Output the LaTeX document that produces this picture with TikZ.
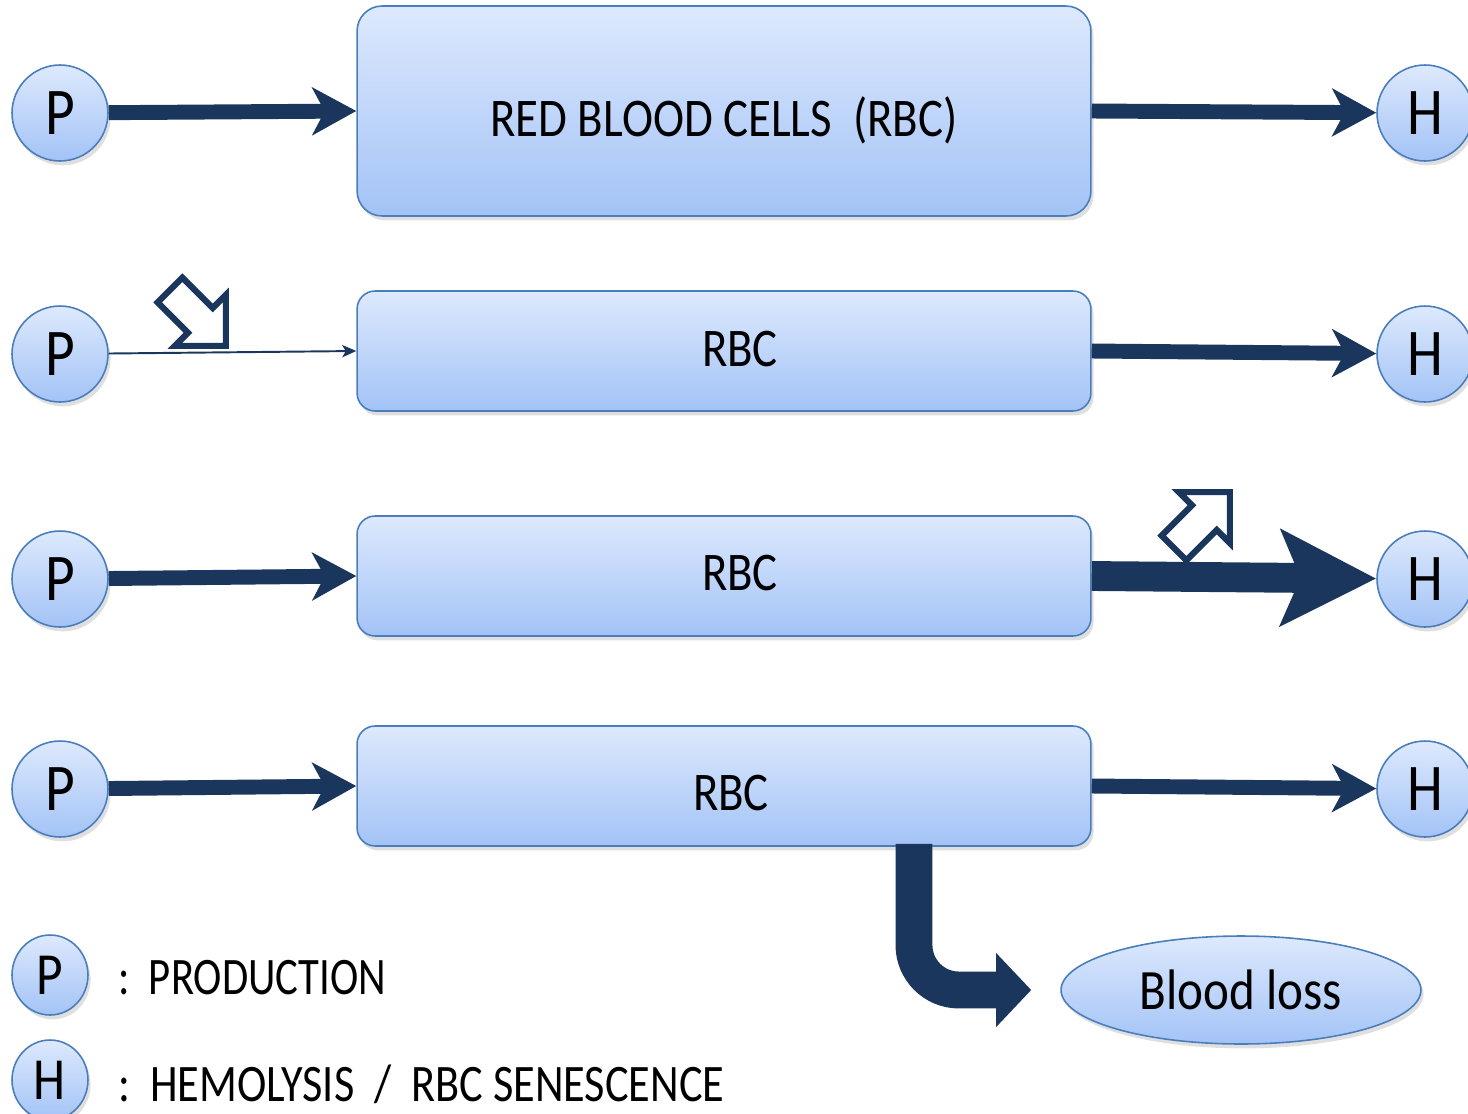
\documentclass[tikz,border=0pt]{standalone}
\usepackage{fontspec}
\setmainfont{Carlito}
\newfontfamily\narrowfont[FakeStretch=0.86]{Carlito}
\newfontfamily\keyfont[FakeStretch=0.81]{Carlito}
\newfontfamily\causefont[FakeStretch=0.84]{Carlito}
\usetikzlibrary{arrows.meta,shadows,shapes.geometric}
\definecolor{navy}{HTML}{1A365D}
\definecolor{rim}{HTML}{4A7EBB}
\definecolor{topblue}{HTML}{DDE9FD}
\definecolor{botblue}{HTML}{A3C3F6}
\newcommand{\lowered}[2]{\raisebox{-#1}[0pt][0pt]{#2}}

\begin{document}
\begin{tikzpicture}[x=0.02cm,y=-0.02cm,
  cell/.style={draw=rim, line width=0.9pt, top color=topblue, bottom color=botblue,
    drop shadow={opacity=0.25, shadow xshift=1.5pt, shadow yshift=-2.5pt}},
  ball/.style={cell, circle, minimum size=1.92cm, inner sep=0pt,
    font=\narrowfont\fontsize{38}{42}\selectfont},
  key/.style={cell, ellipse, minimum width=1.52cm, minimum height=1.6cm, inner sep=0pt,
    font=\narrowfont\fontsize{34}{38}\selectfont},
  rbc/.style={cell, rectangle, rounded corners=0.36cm, minimum width=14.68cm,
    minimum height=2.4cm, font=\narrowfont\fontsize{31}{36}\selectfont},
  flow/.style={navy, line width=8.5pt, -{Stealth[length=25pt,width=27pt,inset=7pt]}},
  weakflow/.style={navy, line width=1.1pt, -{Stealth[length=8pt,width=7pt,inset=2pt]}},
  strongflow/.style={navy, line width=17pt, -{Stealth[length=54pt,width=54pt,inset=11pt]}},
  lossflow/.style={navy, line width=21pt, rounded corners=0.9cm, -{Triangle[length=20pt,width=41pt]}},
  hollow/.style={draw=navy, line width=3.5pt, fill=white, line join=miter},
  legend/.style={anchor=west, font=\keyfont\fontsize{30}{34}\selectfont}]
  \useasboundingbox (0,0) rectangle (1468,1113);

  \node[rbc, minimum height=4.2cm, rounded corners=0.5cm] (rbc1) at (724,111) {\lowered{0.5cm}{RED BLOOD CELLS\ \ (RBC)}};
  \node[rbc] (rbc2) at (724,351) {\hspace*{0.64cm}\lowered{0.3cm}{RBC}};
  \node[rbc] (rbc3) at (724,576) {\hspace*{0.64cm}\lowered{0.28cm}{RBC}};
  \node[rbc] (rbc4) at (724,786) {\hspace*{0.28cm}\lowered{0.48cm}{RBC}};

  \node[ball] (p1) at (60,113) {P};
  \node[ball] (p2) at (60,354) {P};
  \node[ball] (p3) at (60,579) {P};
  \node[ball] (p4) at (60,789) {P};
  \node[ball] (h1) at (1425,113) {H};
  \node[ball] (h2) at (1425,354) {H};
  \node[ball] (h3) at (1425,579) {H};
  \node[ball] (h4) at (1425,789) {H};

  \node[cell, ellipse, minimum width=7.2cm, minimum height=2.16cm, inner sep=0pt,
    font=\narrowfont\fontsize{32.5}{36}\selectfont] (loss) at (1241,990) {Blood loss};

  \draw[flow] (p1) -- (rbc1.west);
  \draw[flow] (rbc1.east) -- (h1);
  \draw[weakflow] (p2) -- (rbc2.west);
  \draw[flow] (rbc2.east) -- (h2);
  \draw[flow] (p3) -- (rbc3.west);
  \draw[strongflow] (rbc3.east) -- (h3);
  \draw[flow] (p4) -- (rbc4.west);
  \draw[flow] (rbc4.east) -- (h4);
  \draw[lossflow] ([xshift=3.8cm,yshift=0.06cm]rbc4.south) |- ([xshift=-0.58cm]loss.west);

  % down and up markers
  \begin{scope}[shift={(170,290)}, rotate=-45]
    \draw[hollow] (0,17.5) -- (43,17.5) -- (43,36) -- (79,0) -- (43,-36) -- (43,-17.5) -- (0,-17.5) -- cycle;
  \end{scope}
  \begin{scope}[shift={(1174,548)}, rotate=45]
    \draw[hollow] (0,17.5) -- (43,17.5) -- (43,36) -- (79,0) -- (43,-36) -- (43,-17.5) -- (0,-17.5) -- cycle;
  \end{scope}

  \node[key] (kp) at (50,975) {P};
  \node[key] (kh) at (50,1080) {H};
  \node[legend] (prod) at (112,978) {:\ \ PRODUCTION};
  \node[legend, font=\causefont\fontsize{30}{34}\selectfont] (hemo) at (112,1084) {:\ \ HEMOLYSIS\ \ /\ \ RBC SENESCENCE};
\end{tikzpicture}
\end{document}
